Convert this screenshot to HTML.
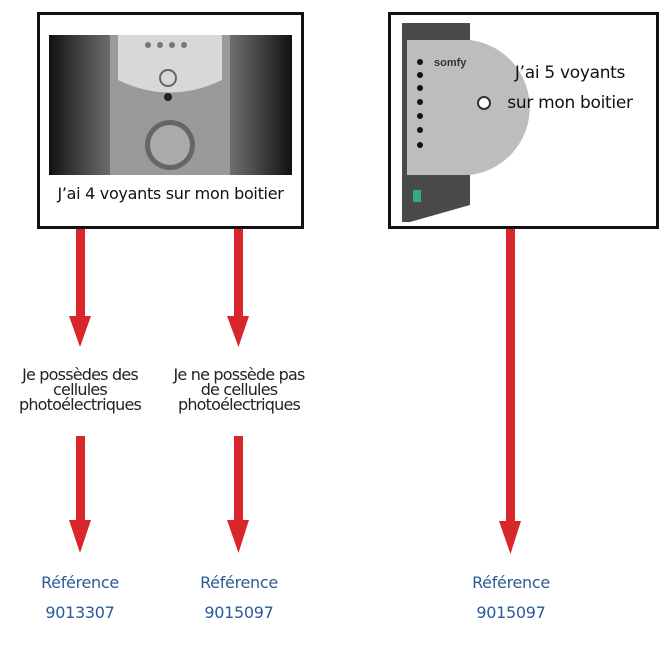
<!DOCTYPE html>
<html><head><meta charset="utf-8"><style>
body{margin:0;width:671px;height:650px;background:#fff;position:relative;overflow:hidden;font-family:"DejaVu Sans","Liberation Sans",sans-serif}
.box{position:absolute;border:3px solid #111;background:#fff;box-sizing:border-box}
.t{position:absolute;text-align:center;color:#222}
.lbl{font-size:16px;line-height:15px;letter-spacing:-0.8px;width:170px}
.ref{color:#2a5a98;font-size:16px;line-height:30px;width:120px;letter-spacing:-0.3px}
</style></head><body>
<div class="box" style="left:37px;top:12px;width:267px;height:217px"></div>
<svg style="position:absolute;left:0;top:0" width="671" height="650">
<defs>
<linearGradient id="g1" x1="0" x2="1"><stop offset="0" stop-color="#111"/><stop offset="0.18" stop-color="#555"/><stop offset="0.5" stop-color="#bbb"/><stop offset="0.82" stop-color="#555"/><stop offset="1" stop-color="#111"/></linearGradient>
</defs>
<rect x="49" y="35" width="243" height="140" fill="url(#g1)"/>
<path d="M110 35 L230 35 L230 175 L110 175 Z" fill="#9a9a9a"/>
<path d="M118 35 L222 35 L222 80 Q170 105 118 80 Z" fill="#d8d8d8"/>
<circle cx="148" cy="45" r="3" fill="#777"/><circle cx="160" cy="45" r="3" fill="#777"/><circle cx="172" cy="45" r="3" fill="#777"/><circle cx="184" cy="45" r="3" fill="#777"/>
<circle cx="168" cy="78" r="8" fill="none" stroke="#666" stroke-width="2"/>
<circle cx="168" cy="97" r="4" fill="#222"/>
<circle cx="170" cy="145" r="25" fill="#666"/><circle cx="170" cy="145" r="20" fill="#aaa"/>
</svg>
<div class="t" style="left:37px;top:184px;width:267px;font-size:16px;color:#111;letter-spacing:-0.3px">J’ai 4 voyants sur mon boitier</div>
<div class="box" style="left:388px;top:12px;width:271px;height:217px"></div>
<svg style="position:absolute;left:0;top:0" width="671" height="650">
<path d="M402 23 L470 23 L470 40 A75 75 0 0 1 470 175 L470 205 L410 222 L402 222 Z" fill="#4a4a4a"/>
<path d="M407 40 L470 40 A68 68 0 0 1 470 175 L407 175 Z" fill="#bdbdbd"/>
<circle cx="420" cy="62" r="3" fill="#111"/><circle cx="420" cy="75" r="3" fill="#111"/><circle cx="420" cy="88" r="3" fill="#111"/><circle cx="420" cy="102" r="3" fill="#111"/><circle cx="420" cy="116" r="3" fill="#111"/><circle cx="420" cy="130" r="3" fill="#111"/><circle cx="420" cy="145" r="3" fill="#111"/>
<text x="434" y="66" font-size="11" font-family="Liberation Sans" font-weight="bold" fill="#333">somfy</text>
<circle cx="484" cy="103" r="6" fill="#fff" stroke="#333" stroke-width="2"/>
<rect x="413" y="190" width="8" height="12" fill="#3a8"/>
<g fill="#d9262b">
<rect x="76" y="229" width="9" height="90"/><path d="M69 316 L91 316 L80 347 Z"/>
<rect x="234" y="229" width="9" height="90"/><path d="M227 316 L249 316 L238.5 347 Z"/>
<rect x="76" y="436" width="9" height="86"/><path d="M69 520 L91 520 L80 553 Z"/>
<rect x="234" y="436" width="9" height="86"/><path d="M227 520 L249 520 L238.5 553 Z"/>
<rect x="506" y="229" width="9" height="294"/><path d="M499 521 L521 521 L510.5 554 Z"/>
</g>
</svg>
<div class="t" style="left:500px;top:58px;width:140px;font-size:17px;line-height:30px;color:#111;letter-spacing:-0.3px">J’ai 5 voyants<br>sur mon boitier</div>
<div class="t lbl" style="left:-5px;top:367px">Je possèdes des<br>cellules<br>photoélectriques</div>
<div class="t lbl" style="left:154px;top:367px">Je ne possède pas<br>de cellules<br>photoélectriques</div>
<div class="t ref" style="left:20px;top:568px">Référence<br>9013307</div>
<div class="t ref" style="left:179px;top:568px">Référence<br>9015097</div>
<div class="t ref" style="left:451px;top:568px">Référence<br>9015097</div>
</body></html>
